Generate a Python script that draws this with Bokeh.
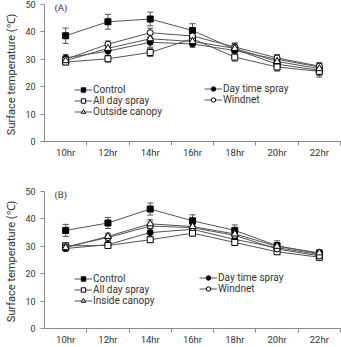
from bokeh.plotting import figure
from bokeh.layouts import column
from bokeh.models import (FixedTicker, Whisker, TeeHead, ColumnDataSource,
                          Legend, LegendItem, Label, Range1d)
from bokeh.embed import file_html
from bokeh.resources import INLINE

# time of day (x categories)
hours = ["10hr", "12hr", "14hr", "16hr", "18hr", "20hr", "22hr"]
y_ticks = [0, 10, 20, 30, 40, 50]

# (A) outside canopy experiment: mean surface temperature and SD
a_control = [38.6, 43.7, 44.7, 40.5, 33.7, 28.2, 26.0]
a_control_err = [2.8, 2.7, 2.5, 2.5, 2.0, 2.0, 2.5]
a_daytime = [30.5, 33.0, 36.2, 35.6, 33.2, 30.0, 27.2]
a_daytime_err = [1.2, 1.5, 1.8, 1.2, 1.5, 1.5, 1.5]
a_allday = [29.0, 30.2, 32.5, 37.5, 30.8, 27.2, 25.6]
a_allday_err = [1.0, 1.2, 1.5, 1.2, 1.5, 1.5, 1.5]
a_windnet = [30.0, 35.5, 39.7, 38.5, 34.5, 30.5, 27.5]
a_windnet_err = [1.0, 1.2, 1.6, 1.5, 1.5, 1.2, 1.2]
a_canopy = [29.5, 34.0, 37.5, 36.5, 34.0, 29.2, 26.6]
a_canopy_err = [1.0, 1.2, 1.5, 1.2, 1.2, 1.2, 1.2]

# (B) inside canopy experiment
b_control = [35.8, 38.5, 43.6, 39.3, 35.8, 30.2, 27.3]
b_control_err = [2.2, 2.0, 2.2, 2.2, 2.0, 1.8, 1.5]
b_daytime = [29.2, 30.6, 35.0, 36.2, 32.5, 29.5, 27.0]
b_daytime_err = [1.0, 1.0, 1.5, 1.2, 1.2, 1.2, 1.0]
b_allday = [30.2, 30.3, 32.4, 34.8, 31.4, 28.0, 26.0]
b_allday_err = [1.0, 1.0, 1.0, 1.0, 1.0, 1.0, 1.0]
b_windnet = [29.8, 33.2, 37.4, 36.8, 34.0, 29.0, 26.5]
b_windnet_err = [1.0, 1.2, 1.5, 1.2, 1.2, 1.2, 1.0]
b_canopy = [29.5, 33.6, 38.2, 37.2, 34.5, 30.0, 27.6]
b_canopy_err = [1.0, 1.2, 1.5, 1.2, 1.2, 1.2, 1.0]

FONT = "Roboto"
LINE = "#555555"
AXIS = "#8a8a8a"
TEXT = "#333333"


def make_panel(series, tag, height, top, bottom, left,
               legend_left_xy, legend_right_xy):
    p = figure(width=341, height=height, output_backend="svg",
               toolbar_location=None, x_range=Range1d(-0.5, 6.5),
               y_range=Range1d(0, 50), min_border_left=left,
               min_border_right=1, min_border_top=top,
               min_border_bottom=bottom)
    p.outline_line_color = None
    p.grid.grid_line_color = None

    xs = list(range(len(hours)))
    items = {}
    for name, vals, errs, marker, fill, size in series:
        src = ColumnDataSource(dict(
            x=xs, y=vals,
            upper=[v + e for v, e in zip(vals, errs)],
            lower=[v - e for v, e in zip(vals, errs)]))
        ln = p.line("x", "y", source=src, line_color=LINE, line_width=1)
        wh = Whisker(base="x", upper="upper", lower="lower", source=src,
                     line_color=LINE, line_width=1,
                     upper_head=TeeHead(size=6, line_color=LINE, line_width=1),
                     lower_head=TeeHead(size=6, line_color=LINE, line_width=1))
        p.add_layout(wh)
        sc = p.scatter("x", "y", source=src, marker=marker, size=size,
                       fill_color=fill, line_color="black", line_width=1)
        items[name] = LegendItem(label=name, renderers=[ln, sc])

    # two legend columns: left holds entries 1, 3, 5; right holds 2, 4
    names = [s[0] for s in series]
    left_items = [items[names[0]], items[names[2]], items[names[4]]]
    right_items = [items[names[1]], items[names[3]]]
    for its, loc in ((left_items, legend_left_xy), (right_items, legend_right_xy)):
        lg = Legend(items=its, location=loc, border_line_color=None,
                    background_fill_alpha=0, padding=0, margin=0, spacing=0,
                    label_text_font=FONT, label_text_font_size="10px",
                    label_text_color=TEXT, label_standoff=1, glyph_width=18,
                    glyph_height=11, label_height=11)
        p.add_layout(lg)

    p.add_layout(Label(x=-0.5, y=50, x_offset=10, y_offset=-3, text=tag,
                       text_font=FONT, text_font_size="9.5px",
                       text_color=TEXT, text_baseline="middle"))

    xa = p.xaxis[0]
    xa.ticker = FixedTicker(ticks=xs, minor_ticks=[i + 0.5 for i in xs])
    xa.major_label_overrides = {i: h for i, h in enumerate(hours)}
    xa.major_tick_out = 0
    xa.major_tick_in = 0
    xa.minor_tick_out = 4
    xa.minor_tick_in = 0
    xa.minor_tick_line_color = AXIS
    xa.axis_line_color = AXIS
    xa.major_label_text_font = FONT
    xa.major_label_text_font_size = "9.5px"
    xa.major_label_text_color = TEXT
    xa.major_label_standoff = 1

    ya = p.yaxis[0]
    ya.ticker = FixedTicker(ticks=y_ticks, minor_ticks=[])
    ya.major_tick_out = 4
    ya.major_tick_in = 0
    ya.major_tick_line_color = AXIS
    ya.axis_line_color = AXIS
    ya.major_label_text_font = FONT
    ya.major_label_text_font_size = "9px"
    ya.major_label_text_color = TEXT
    ya.major_label_standoff = 5
    ya.axis_label = "Surface temperature  (\u2103)"
    ya.axis_label_text_font = FONT
    ya.axis_label_text_font_size = "11px"
    ya.axis_label_text_font_style = "normal"
    ya.axis_label_text_color = TEXT
    ya.axis_label_standoff = 4
    return p


series_a = [
    ("Control", a_control, a_control_err, "square", "black", 6),
    ("Day time spray", a_daytime, a_daytime_err, "circle", "black", 6),
    ("All day spray", a_allday, a_allday_err, "square", "white", 6),
    ("Windnet", a_windnet, a_windnet_err, "circle", "white", 6),
    ("Outside canopy", a_canopy, a_canopy_err, "triangle", "white", 7),
]
series_b = [
    ("Control", b_control, b_control_err, "square", "black", 6),
    ("Day time spray", b_daytime, b_daytime_err, "circle", "black", 6),
    ("All day spray", b_allday, b_allday_err, "square", "white", 6),
    ("Windnet", b_windnet, b_windnet_err, "circle", "white", 6),
    ("Inside canopy", b_canopy, b_canopy_err, "triangle", "white", 7),
]

pa = make_panel(series_a, "(A)", 172, 4, 31, 44, (30, 24), (160, 36))
pb = make_panel(series_b, "(B)", 175, 19, 19, 43, (30, 22), (155, 34))

layout = column(pa, pb, spacing=0)
open("out.html", "w").write(file_html(layout, INLINE))
